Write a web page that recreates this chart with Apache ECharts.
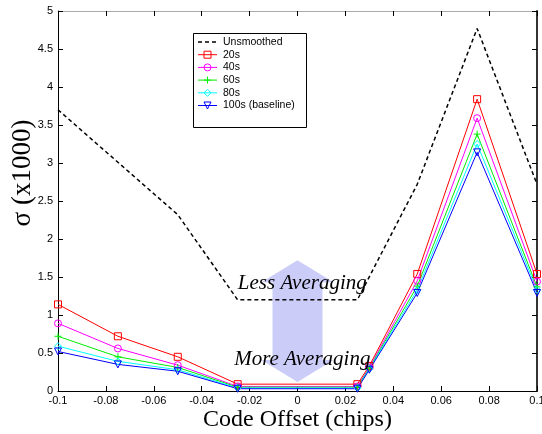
<!DOCTYPE html>
<html>
<head>
<meta charset="utf-8">
<script src="https://cdn.jsdelivr.net/npm/echarts@6/dist/echarts.min.js"></script>
<style>html,body{margin:0;padding:0;background:#fff}#c{width:542px;height:434px}</style>
</head>
<body>
<div id="c"></div>
<script>
// ---- data ----
const xTicks = [-0.1, -0.08, -0.06, -0.04, -0.02, 0, 0.02, 0.04, 0.06, 0.08, 0.1];
const yTicks = [0, 0.5, 1, 1.5, 2, 2.5, 3, 3.5, 4, 4.5, 5];
const unsmoothedX = [-0.1, -0.075, -0.05, -0.025, 0.025, 0.05, 0.075, 0.1];
const unsmoothed  = [3.70, 3.01, 2.32, 1.20, 1.20, 2.72, 4.77, 2.72];
const smoothX = [-0.1, -0.075, -0.05, -0.025, 0.025, 0.03, 0.05, 0.075, 0.1];
const s20  = [1.14, 0.72, 0.45, 0.09, 0.09, 0.33, 1.54, 3.84, 1.54];
const s40  = [0.89, 0.56, 0.34, 0.06, 0.06, 0.31, 1.45, 3.59, 1.44];
const s60  = [0.72, 0.45, 0.31, 0.05, 0.05, 0.30, 1.38, 3.38, 1.37];
const s80  = [0.59, 0.39, 0.28, 0.04, 0.04, 0.29, 1.33, 3.25, 1.33];
const s100 = [0.52, 0.35, 0.26, 0.03, 0.03, 0.28, 1.29, 3.14, 1.29];
const seriesNames = ['Unsmoothed', '20s', '40s', '60s', '80s', '100s (baseline)'];
const seriesColors = ['#000000', '#ff0000', '#ff00ff', '#00ee00', '#00ffff', '#0000ff'];
const markerKinds = ['none', 'square', 'circle', 'plus', 'diamond', 'tridown'];
const arrowX = 0, arrowTop = 1.72, arrowBottom = 0.12;
const lessLabel = {text: 'Less Averaging', x: 0.002, y: 1.42};
const moreLabel = {text: 'More Averaging', x: 0.002, y: 0.41};

const pair = (xs, ys) => xs.map((x, i) => [x, ys[i]]);
const fmt = v => String(+v.toFixed(2));
const serifF = 'Liberation Serif, Times New Roman, serif';
const sansF = 'Liberation Sans, Arial, sans-serif';
const symbolMap = {
  square: 'path://M0,0L10,0L10,10L0,10Z',
  circle: 'path://M10,5A5,5,0,1,1,0,5A5,5,0,1,1,10,5Z',
  plus: 'path://M5,0L5,10M0,5L10,5',
  diamond: 'path://M5,0L10,5L5,10L0,5Z',
  tridown: 'path://M0,0L10,0L5,9Z'
};
const dash = [4, 3];

const chart = echarts.init(document.getElementById('c'), null, {renderer: 'canvas'});

function mk(i, ys) {
  const color = seriesColors[i], kind = markerKinds[i];
  return {
    name: seriesNames[i], type: 'line', data: pair(smoothX, ys), symbol: symbolMap[kind], symbolSize: 7,
    lineStyle: {color, width: 1}, itemStyle: {color: 'none', borderColor: color, borderWidth: 1},
    emphasis: {disabled: true}, z: 3
  };
}

const option = {
  animation: false,
  backgroundColor: '#fff',
  grid: {left: 58, right: 5, top: 11, bottom: 43, outerBoundsMode: 'none', containLabel: false},
  xAxis: [{
    type: 'value', min: -0.1, max: 0.1, interval: 0.02,
    name: 'Code Offset (chips)', nameLocation: 'middle', nameGap: 17, nameMoveOverlap: false,
    nameTextStyle: {fontFamily: serifF, fontSize: 24, color: '#000'},
    axisLine: {show: true, onZero: false, lineStyle: {color: '#000', width: 1}},
    axisTick: {show: true, inside: true, length: 5, lineStyle: {color: '#000'}},
    axisLabel: {formatter: fmt, fontFamily: sansF, fontSize: 11, color: '#000', margin: 4, hideOverlap: false},
    splitLine: {show: false}
  }, {
    type: 'value', min: -0.1, max: 0.1, interval: 0.02, position: 'top',
    axisLine: {show: true, onZero: false, lineStyle: {color: '#aaa', width: 1}},
    axisTick: {show: true, inside: true, length: 5, lineStyle: {color: '#000'}},
    axisLabel: {show: false}, splitLine: {show: false}
  }],
  yAxis: [{
    type: 'value', min: 0, max: 5, interval: 0.5,
    name: 'σ (x1000)', nameLocation: 'middle', nameGap: 22, nameRotate: 90, nameMoveOverlap: false,
    nameTextStyle: {fontFamily: serifF, fontSize: 27, color: '#000', padding: [0, 0, 0, 56]},
    axisLine: {show: true, onZero: false, lineStyle: {color: '#000', width: 1}},
    axisTick: {show: true, inside: true, length: 5, lineStyle: {color: '#000'}},
    axisLabel: {formatter: fmt, fontFamily: sansF, fontSize: 11, color: '#000', margin: 5},
    splitLine: {show: false}
  }, {
    type: 'value', min: 0, max: 5, interval: 0.5, position: 'right',
    axisLine: {show: true, onZero: false, lineStyle: {color: '#333', width: 2}},
    axisTick: {show: true, inside: true, length: 5, lineStyle: {color: '#000'}},
    axisLabel: {show: false}, splitLine: {show: false}
  }],
  series: [
    {name: 'Unsmoothed', type: 'line', data: pair(unsmoothedX, unsmoothed), symbol: 'none',
     lineStyle: {color: '#000', width: 1.5, type: dash}, itemStyle: {color: '#000'},
     emphasis: {disabled: true}, z: 3},
    mk(1, s20), mk(2, s40), mk(3, s60), mk(4, s80), mk(5, s100)
  ]
};
chart.setOption(option);

// ---- annotations (arrow + labels) and legend as graphics ----
const toPx = (x, y) => chart.convertToPixel({xAxisIndex: 0, yAxisIndex: 0}, [x, y]);
const pTop = toPx(arrowX, arrowTop), pBot = toPx(arrowX, arrowBottom);
const cx = pTop[0], yT = pTop[1], yB = pBot[1];
const bw = 25, hw = 36, hl = 22;
const lp = toPx(lessLabel.x, lessLabel.y), mp = toPx(moreLabel.x, moreLabel.y);

function markerGraphic(kind, x, y, color) {
  const st = {fill: 'none', stroke: color, lineWidth: 1};
  const r = 3.5;
  if (kind === 'square') return {type: 'rect', shape: {x: x - r, y: y - r, width: 2 * r, height: 2 * r}, style: st};
  if (kind === 'circle') return {type: 'circle', shape: {cx: x, cy: y, r: r}, style: st};
  if (kind === 'plus') return {type: 'polyline', shape: {points: [[x - r, y], [x + r, y]]}, style: st};
  if (kind === 'diamond') return {type: 'polygon', shape: {points: [[x, y - r], [x + r, y], [x, y + r], [x - r, y]]}, style: st};
  if (kind === 'tridown') return {type: 'polygon', shape: {points: [[x - r, y - r], [x + r, y - r], [x, y + r]]}, style: st};
  return null;
}

const legBox = {x: 193, y: 33, w: 113, h: 94};
const legGraphics = [{type: 'rect', z: 50, shape: {x: legBox.x + 0.5, y: legBox.y + 0.5, width: legBox.w, height: legBox.h},
                      style: {fill: '#fff', stroke: '#000', lineWidth: 1}}];
seriesNames.forEach((name, i) => {
  const yy = legBox.y + 9 + i * 12.7;
  const x0 = legBox.x + 5, x1 = legBox.x + 24, xm = (x0 + x1) / 2;
  const color = seriesColors[i];
  legGraphics.push({type: 'line', z: 51, shape: {x1: x0, y1: yy, x2: x1, y2: yy},
    style: {stroke: color, lineWidth: i === 0 ? 1.5 : 1, lineDash: i === 0 ? dash : null}});
  const m = markerGraphic(markerKinds[i], xm, yy, color);
  if (m) { m.z = 52; legGraphics.push(m); }
  if (markerKinds[i] === 'plus') legGraphics.push({type: 'polyline', z: 52, shape: {points: [[xm, yy - 3.5], [xm, yy + 3.5]]}, style: {stroke: color, lineWidth: 1}});
  legGraphics.push({type: 'text', z: 52, x: legBox.x + 30, y: yy,
    style: {text: name, fontFamily: sansF, fontSize: 10.5, fill: '#000', verticalAlign: 'middle', align: 'left'}});
});

chart.setOption({
  graphic: [
    {type: 'polygon', z: 1, silent: true,
     shape: {points: [[cx, yT], [cx + hw, yT + hl], [cx + bw, yT + hl], [cx + bw, yB - hl], [cx + hw, yB - hl],
                      [cx, yB], [cx - hw, yB - hl], [cx - bw, yB - hl], [cx - bw, yT + hl], [cx - hw, yT + hl]]},
     style: {fill: 'rgb(204,204,248)'}},
    {type: 'text', z: 100, x: lp[0], y: lp[1],
     style: {text: lessLabel.text, fontFamily: serifF, fontStyle: 'italic', fontSize: 21, fill: '#000',
             align: 'center', verticalAlign: 'middle'}},
    {type: 'text', z: 100, x: mp[0], y: mp[1],
     style: {text: moreLabel.text, fontFamily: serifF, fontStyle: 'italic', fontSize: 21, fill: '#000',
             align: 'center', verticalAlign: 'middle'}}
  ].concat(legGraphics)
});
</script>
</body>
</html>
